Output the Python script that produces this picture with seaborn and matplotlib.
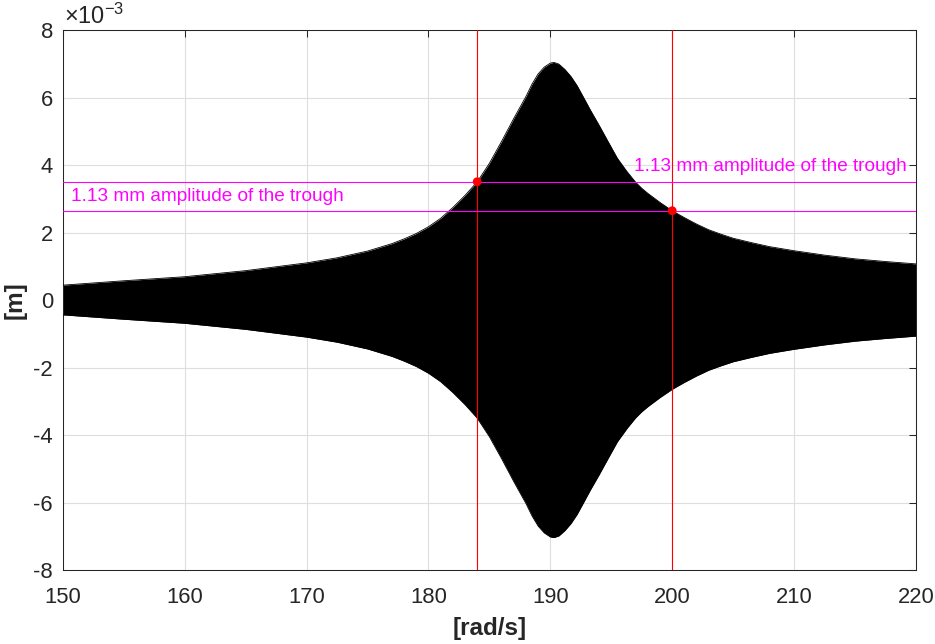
import pandas as pd
import matplotlib
matplotlib.use("Agg")
import matplotlib.pyplot as plt
import seaborn as sns

# Envelope of the response (rad/s, amplitude in 1e-3 m)
freq = [150, 155, 160, 165, 170, 172.5, 175, 177, 178, 179, 180, 181, 182,
        183, 184, 185, 186, 187, 188, 188.5, 189, 189.5, 190, 190.3, 190.7,
        191.2, 191.7, 192.2, 192.7, 193.3, 194, 194.7, 195.5, 196.3, 197,
        197.5, 198, 199, 200, 201, 202, 203, 204, 205, 206.5, 208, 210, 212.5,
        215, 217.5, 220]
amp = [0.44, 0.57, 0.69, 0.87, 1.10, 1.25, 1.45, 1.67, 1.81, 1.97, 2.17, 2.42, 2.74,
       3.10, 3.50, 4.05, 4.70, 5.38, 6.03, 6.40, 6.70, 6.90, 7.02, 7.04, 6.99,
       6.83, 6.62, 6.35, 6.02, 5.62, 5.18, 4.72, 4.20, 3.80, 3.49,
       3.31, 3.16, 2.89, 2.645, 2.44, 2.25, 2.08, 1.95, 1.83, 1.70, 1.58, 1.46, 1.33,
       1.22, 1.14, 1.07]

# points where the red markers sit
mark_freq = [184, 200]
mark_amp = [3.505, 2.646]
note = "1.13 mm amplitude of the trough"
x_ticks = [150, 160, 170, 180, 190, 200, 210, 220]
y_ticks = [-8, -6, -4, -2, 0, 2, 4, 6, 8]

sns.set_style("white")
plt.rcParams['font.family'] = ['Liberation Sans', 'DejaVu Sans']
plt.rcParams['mathtext.fontset'] = 'custom'
plt.rcParams['mathtext.rm'] = 'Liberation Sans'
plt.rcParams['mathtext.it'] = 'Liberation Sans'
plt.rcParams['axes.unicode_minus'] = False

df = pd.DataFrame({'freq': freq, 'upper': amp})
df['lower'] = -df['upper']

fig, ax = plt.subplots(figsize=(9.35, 6.44), dpi=100)
fig.subplots_adjust(left=0.0671, right=0.9797, bottom=0.1149, top=0.9534)

ax.fill_between(df['freq'], df['lower'], df['upper'], color='black', lw=0, zorder=2)
sns.lineplot(data=df, x='freq', y='upper', color='black', lw=0.6, ax=ax, zorder=3)
sns.lineplot(data=df, x='freq', y='lower', color='black', lw=0.6, ax=ax, zorder=3)

for f in mark_freq:
    ax.axvline(f, color='red', lw=0.8, zorder=4)
for a in mark_amp:
    ax.axhline(a, color='#ff00ff', lw=0.8, zorder=4)
sns.scatterplot(x=mark_freq, y=mark_amp, color='red', s=40, edgecolor='none',
                ax=ax, zorder=5)

ax.text(150.7, 3.06, note, color='#ff00ff', fontsize=13.7, ha='left', va='center')
ax.text(196.86, 3.97, note, color='#ff00ff', fontsize=13.7, ha='left', va='center')

ax.set_xlim(150, 220)
ax.set_ylim(-8, 8)
ax.set_xticks(x_ticks)
ax.set_yticks(y_ticks)
ax.grid(True, color='#dedede', lw=0.8)
ax.set_axisbelow(True)
ax.tick_params(direction='in', length=5, width=0.75, top=True, right=True,
               labelsize=15.8, colors='#262626')
ax.tick_params(axis='x', pad=12)
ax.tick_params(axis='y', pad=7)
for s in ax.spines.values():
    s.set_color('#262626')
    s.set_linewidth(0.75)

ax.set_xlabel('')
ax.set_ylabel('')
fig.text(489.4 / 935, 1 - 628 / 644, '[rad/s]', fontsize=17.5, fontweight='bold',
         color='#262626', ha='center', va='center')
fig.text(14.7 / 935, 1 - 300 / 644, '[m]', fontsize=17.5, fontweight='bold',
         color='#262626', ha='center', va='center', rotation=90)
fig.text(64 / 935, 1 - 16 / 644, r'$\times10^{-3}$', fontsize=17,
         color='#262626', ha='left', va='center')

plt.savefig("out.png", dpi=100)
plt.close()
